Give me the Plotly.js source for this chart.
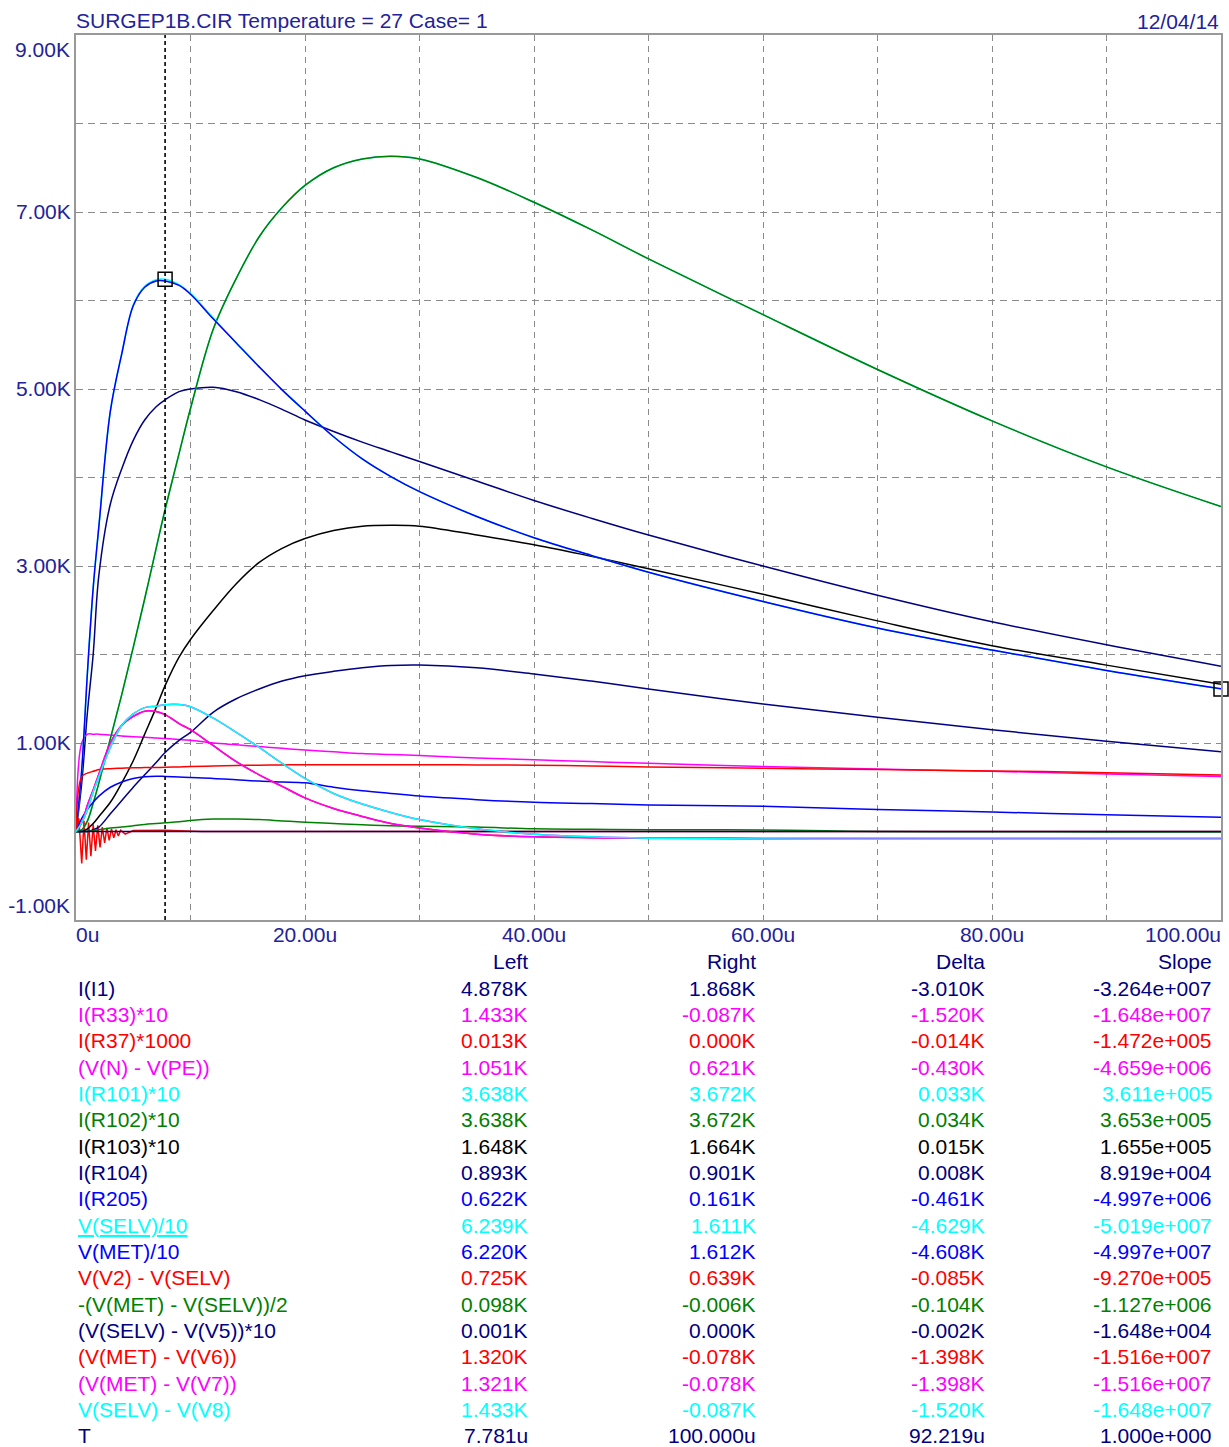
<!DOCTYPE html>
<html><head><meta charset="utf-8">
<script src="https://cdn.plot.ly/plotly-3.0.1.min.js"></script>
<style>html,body{margin:0;padding:0;background:#fff}#chart{width:1229px;height:1447px}</style>
</head><body><div id="chart"></div>
<script>
// ---------- DATA (time in microseconds, values in K) ----------
const timeUs = [0, 0.5, 1, 1.5, 2, 3, 4, 5, 6, 7, 7.781, 9, 10, 12, 14, 16, 18, 20, 22.5, 25, 27.5, 30, 35, 40, 45, 50, 60, 70, 80, 90, 100];

const iI1      = [0, 0.55, 1.35, 2.0, 2.9, 3.7, 4.1, 4.42, 4.65, 4.8, 4.878, 4.97, 5.0, 5.02, 4.97, 4.88, 4.77, 4.65, 4.52, 4.40, 4.29, 4.18, 3.96, 3.74, 3.54, 3.35, 3.0, 2.67, 2.37, 2.11, 1.868];
const iR33x10  = [0, 0.1, 0.25, 0.45, 0.62, 0.95, 1.2, 1.33, 1.4, 1.415, 1.433, 1.435, 1.41, 1.28, 1.12, 0.95, 0.77, 0.6, 0.43, 0.31, 0.215, 0.135, 0.03, -0.03, -0.06, -0.075, -0.085, -0.087, -0.087, -0.087, -0.087];
const vNminusPE = [0, 1.0, 1.1, 1.1, 1.1, 1.09, 1.08, 1.07, 1.065, 1.057, 1.051, 1.04, 1.03, 1.0, 0.98, 0.96, 0.94, 0.92, 0.9, 0.88, 0.87, 0.86, 0.83, 0.81, 0.79, 0.77, 0.735, 0.705, 0.68, 0.65, 0.621];
const iR101x10 = [0, 0.02, 0.12, 0.32, 0.55, 1.05, 1.55, 2.08, 2.63, 3.2, 3.638, 4.27, 4.78, 5.68, 6.25, 6.72, 7.05, 7.3, 7.5, 7.6, 7.63, 7.6, 7.39, 7.11, 6.8, 6.47, 5.84, 5.22, 4.64, 4.12, 3.672];
const iR102x10 = [0, 0.02, 0.12, 0.32, 0.55, 1.05, 1.55, 2.08, 2.63, 3.2, 3.638, 4.27, 4.78, 5.68, 6.25, 6.72, 7.05, 7.3, 7.5, 7.6, 7.63, 7.6, 7.39, 7.11, 6.8, 6.47, 5.84, 5.22, 4.64, 4.12, 3.672];
const iR103x10 = [0, 0, 0.03, 0.09, 0.17, 0.33, 0.55, 0.8, 1.1, 1.4, 1.648, 1.97, 2.17, 2.5, 2.8, 3.04, 3.2, 3.31, 3.4, 3.45, 3.46, 3.45, 3.35, 3.24, 3.11, 2.97, 2.68, 2.38, 2.1, 1.88, 1.664];
const iR104    = [0, 0, 0, 0.02, 0.05, 0.2, 0.35, 0.5, 0.64, 0.78, 0.893, 1.03, 1.12, 1.35, 1.5, 1.61, 1.7, 1.76, 1.81, 1.85, 1.875, 1.88, 1.85, 1.78, 1.7, 1.61, 1.44, 1.29, 1.15, 1.02, 0.901];
const iR205    = [0, 0.15, 0.25, 0.33, 0.4, 0.5, 0.56, 0.6, 0.62, 0.625, 0.622, 0.615, 0.61, 0.6, 0.585, 0.57, 0.56, 0.55, 0.5, 0.46, 0.43, 0.4, 0.36, 0.33, 0.315, 0.3, 0.285, 0.25, 0.22, 0.19, 0.161];
const vSELVdiv10 = [0, 0.7, 1.8, 2.75, 3.45, 4.75, 5.4, 5.95, 6.16, 6.235, 6.239, 6.18, 6.08, 5.8, 5.52, 5.25, 4.99, 4.75, 4.46, 4.21, 4.01, 3.84, 3.56, 3.32, 3.12, 2.93, 2.6, 2.3, 2.05, 1.82, 1.611];
const vMETdiv10  = [0, 0.7, 1.8, 2.75, 3.45, 4.75, 5.4, 5.94, 6.15, 6.22, 6.220, 6.17, 6.07, 5.79, 5.52, 5.25, 4.99, 4.75, 4.46, 4.21, 4.01, 3.84, 3.56, 3.32, 3.12, 2.93, 2.6, 2.3, 2.05, 1.82, 1.612];
const vV2minusSELV = [0, 0.62, 0.66, 0.68, 0.7, 0.71, 0.715, 0.72, 0.722, 0.724, 0.725, 0.73, 0.735, 0.74, 0.745, 0.75, 0.752, 0.755, 0.755, 0.755, 0.755, 0.755, 0.752, 0.75, 0.74, 0.73, 0.715, 0.7, 0.685, 0.665, 0.639];
const vMETSELVhalf = [0, 0, 0, 0.01, 0.02, 0.04, 0.05, 0.065, 0.08, 0.09, 0.098, 0.11, 0.125, 0.14, 0.14, 0.135, 0.12, 0.105, 0.09, 0.075, 0.065, 0.06, 0.05, 0.03, 0.025, 0.02, 0.018, 0.0, -0.003, -0.005, -0.006];
const vSELVV5x10 = [0, 0, 0, 0, 0, 0, 0, 0, 0, 0, 0.001, 0, 0, 0, 0, 0, 0, 0, 0, 0, 0, 0, 0, 0, 0, 0, 0, 0, 0, 0, 0];
const vMETminusV6 = [0, 0.1, 0.3, 0.47, 0.65, 1.0, 1.2, 1.3, 1.36, 1.355, 1.321, 1.22, 1.15, 0.97, 0.79, 0.64, 0.51, 0.38, 0.26, 0.17, 0.09, 0.04, -0.03, -0.06, -0.07, -0.075, -0.078, -0.078, -0.078, -0.078, -0.078];
const vMETminusV7 = [0, 0.1, 0.3, 0.47, 0.65, 1.0, 1.2, 1.3, 1.36, 1.355, 1.321, 1.22, 1.15, 0.97, 0.79, 0.64, 0.51, 0.38, 0.26, 0.17, 0.09, 0.04, -0.03, -0.06, -0.07, -0.075, -0.078, -0.078, -0.078, -0.078, -0.078];
const vSELVminusV8 = [0, 0.1, 0.25, 0.45, 0.62, 0.95, 1.2, 1.33, 1.4, 1.415, 1.433, 1.435, 1.41, 1.28, 1.12, 0.95, 0.77, 0.6, 0.43, 0.31, 0.215, 0.135, 0.03, -0.03, -0.06, -0.075, -0.085, -0.087, -0.087, -0.087, -0.087];

// I(R37)*1000 ringing at the start
const timeR37 = [0, 0.25, 0.5, 0.7, 0.9, 1.1, 1.3, 1.5, 1.7, 1.9, 2.1, 2.3, 2.5, 2.7, 2.9, 3.1, 3.3, 3.5, 3.7, 3.9, 4.3, 5, 7.781, 10, 11, 100];
const iR37x1000 = [0, 0.15, -0.36, 0.12, -0.32, 0.1, -0.28, 0.08, -0.22, 0.07, -0.18, 0.05, -0.13, 0.04, -0.1, 0.03, -0.07, 0.02, -0.05, 0.015, -0.03, 0.01, 0.013, 0.008, 0, 0];

// cursors
const cursorT = [7.781, 100];
const cursorV = [6.239, 1.611];

// table
const traceNames = ['I(I1)', 'I(R33)*10', 'I(R37)*1000', '(V(N) - V(PE))', 'I(R101)*10', 'I(R102)*10', 'I(R103)*10', 'I(R104)', 'I(R205)', 'V(SELV)/10', 'V(MET)/10', 'V(V2) - V(SELV)', '-(V(MET) - V(SELV))/2', '(V(SELV) - V(V5))*10', '(V(MET) - V(V6))', '(V(MET) - V(V7))', 'V(SELV) - V(V8)', 'T'];
const leftVals  = ['4.878K', '1.433K', '0.013K', '1.051K', '3.638K', '3.638K', '1.648K', '0.893K', '0.622K', '6.239K', '6.220K', '0.725K', '0.098K', '0.001K', '1.320K', '1.321K', '1.433K', '7.781u'];
const rightVals = ['1.868K', '-0.087K', '0.000K', '0.621K', '3.672K', '3.672K', '1.664K', '0.901K', '0.161K', '1.611K', '1.612K', '0.639K', '-0.006K', '0.000K', '-0.078K', '-0.078K', '-0.087K', '100.000u'];
const deltaVals = ['-3.010K', '-1.520K', '-0.014K', '-0.430K', '0.033K', '0.034K', '0.015K', '0.008K', '-0.461K', '-4.629K', '-4.608K', '-0.085K', '-0.104K', '-0.002K', '-1.398K', '-1.398K', '-1.520K', '92.219u'];
const slopeVals = ['-3.264e+007', '-1.648e+007', '-1.472e+005', '-4.659e+006', '3.611e+005', '3.653e+005', '1.655e+005', '8.919e+004', '-4.997e+006', '-5.019e+007', '-4.997e+007', '-9.270e+005', '-1.127e+006', '-1.648e+004', '-1.516e+007', '-1.516e+007', '-1.648e+007', '1.000e+000'];
const tableHeaders = ['Left', 'Right', 'Delta', 'Slope'];

// axis ticks
const xTickVals = [0, 10, 20, 30, 40, 50, 60, 70, 80, 90, 100];
const xTickText = ['', '', '20.00u', '', '40.00u', '', '60.00u', '', '80.00u', '', ''];
const yTickVals = [-1, 0, 1, 2, 3, 4, 5, 6, 7, 8, 9];
const yTickText = ['', '', '1.00K', '', '3.00K', '', '5.00K', '', '7.00K', '', ''];
const xEdgeText = ['0u', '100.00u'];
const yEdgeText = ['-1.00K', '9.00K'];

const titleText = 'SURGEP1B.CIR Temperature = 27 Case= 1';
const dateText = '12/04/14';

// ---------- STYLE ----------
const NAVY = '#000080', BLUE = '#0000ff', MAG = '#ff00ff', RED = '#ff0000', CYAN = '#00ffff', GREEN = '#008000', BLACK = '#000000';
const rowColors = [NAVY, MAG, RED, MAG, CYAN, GREEN, BLACK, NAVY, BLUE, CYAN, BLUE, RED, GREEN, NAVY, RED, MAG, CYAN, NAVY];
const FONT = '"Liberation Sans", Arial, sans-serif';
const TXT = '#22229a';
const FS = 21;

const W = 1229, H = 1447, ML = 76, MR = 8, MT = 35, MB = 527;
const plotW = W - ML - MR, plotH = H - MT - MB;
const px2x = px => (px - ML) / plotW;
const py2y = py => (H - MB - py) / plotH;

const seriesY = [iI1, iR33x10, null, vNminusPE, iR101x10, iR102x10, iR103x10, iR104, iR205, vSELVdiv10, vMETdiv10, vV2minusSELV, vMETSELVhalf, vSELVV5x10, vMETminusV6, vMETminusV7, vSELVminusV8];

const traces = [];
seriesY.forEach((ys, i) => {
  const isR37 = (i === 2);
  traces.push({
    type: 'scatter', mode: 'lines', name: traceNames[i],
    x: isR37 ? timeR37 : timeUs,
    y: isR37 ? iR37x1000 : ys,
    line: {color: rowColors[i], width: 1.5, shape: isR37 ? 'linear' : 'spline', smoothing: 1.0},
    hoverinfo: 'skip', showlegend: false
  });
});
// cursor dashed line (on overlay axes x2/y2, same ranges)
traces.push({
  type: 'scatter', mode: 'lines', xaxis: 'x2', yaxis: 'y2',
  x: [cursorT[0], cursorT[0]], y: [yTickVals[0], yTickVals[yTickVals.length - 1]],
  line: {color: BLACK, width: 1.6, dash: '4px,3px'}, hoverinfo: 'skip', showlegend: false
});
// cursor boxes (on overlay axes x3/y3, same ranges)
traces.push({
  type: 'scatter', mode: 'markers', xaxis: 'x3', yaxis: 'y3', x: cursorT, y: cursorV, cliponaxis: false,
  marker: {symbol: 'square-open', size: 14, color: BLACK, line: {width: 1.5, color: '#333'}},
  hoverinfo: 'skip', showlegend: false
});

const annotations = [];
annotations.push({xref: 'paper', yref: 'paper', x: 1, y: py2y(21), xanchor: 'right', yanchor: 'middle', text: dateText, showarrow: false, font: {family: FONT, size: FS, color: TXT}});
const colRight = [530, 758, 987, 1214];
tableHeaders.forEach((h, j) => {
  annotations.push({xref: 'paper', yref: 'paper', x: px2x(colRight[j]), y: py2y(962), xanchor: 'right', yanchor: 'middle', text: h, showarrow: false, font: {family: FONT, size: FS, color: NAVY}});
});
traceNames.forEach((n, i) => {
  const yy = py2y(988 + i * 26.35);
  const c = rowColors[i];
  annotations.push({xref: 'paper', yref: 'paper', x: 0, y: yy, xanchor: 'left', yanchor: 'middle', text: (n === 'V(SELV)/10' ? '<u>' + n + '</u>' : n), showarrow: false, font: {family: FONT, size: FS, color: c}});
  [leftVals, rightVals, deltaVals, slopeVals].forEach((arr, j) => {
    annotations.push({xref: 'paper', yref: 'paper', x: px2x(colRight[j]), y: yy, xanchor: 'right', yanchor: 'middle', text: arr[i], showarrow: false, font: {family: FONT, size: FS, color: c}});
  });
});

const tickFont = {family: FONT, size: FS, color: TXT};
const gridDashX = '6px,5px', gridDashY = '7px,5px';
const XSO = -5, YSO = -1, XSO_EDGE = 0, YSO_EDGE = 5;

const layout = {
  width: W, height: H,
  margin: {l: ML, r: MR, t: MT, b: MB, autoexpand: false},
  paper_bgcolor: '#ffffff', plot_bgcolor: '#ffffff',
  showlegend: false,
  title: {text: titleText, x: 0, xref: 'paper', xanchor: 'left', y: 1 - 21 / H, yref: 'container', yanchor: 'middle', font: {family: FONT, size: FS, color: TXT}},
  xaxis: {
    range: [0, 100], tickvals: xTickVals, ticktext: xTickText, ticks: '', ticklabelstandoff: XSO,
    showgrid: true, gridcolor: '#8a8a8a', gridwidth: 1, griddash: gridDashX,
    showline: true, mirror: true, linecolor: '#999999', linewidth: 2, zeroline: false,
    tickfont: tickFont, fixedrange: true
  },
  xaxis2: {
    overlaying: 'x', anchor: 'y2', side: 'bottom', range: [0, 100], tickvals: [xTickVals[0]], ticktext: [xEdgeText[0]],
    ticklabelposition: 'outside right', ticks: '', ticklabelstandoff: XSO_EDGE, showgrid: false, showline: false, zeroline: false, tickfont: tickFont, fixedrange: true
  },
  xaxis3: {
    overlaying: 'x', anchor: 'y3', side: 'bottom', range: [0, 100], tickvals: [xTickVals[xTickVals.length - 1]], ticktext: [xEdgeText[1]],
    ticklabelposition: 'outside left', ticks: '', ticklabelstandoff: XSO_EDGE, showgrid: false, showline: false, zeroline: false, tickfont: tickFont, fixedrange: true
  },
  yaxis: {
    range: [-1, 9], tickvals: yTickVals, ticktext: yTickText, ticks: '', ticklabelstandoff: YSO,
    showgrid: true, gridcolor: '#8a8a8a', gridwidth: 1, griddash: gridDashY,
    showline: true, mirror: true, linecolor: '#999999', linewidth: 2, zeroline: false,
    tickfont: tickFont, fixedrange: true
  },
  yaxis2: {
    overlaying: 'y', anchor: 'x2', side: 'left', range: [-1, 9], tickvals: [yTickVals[yTickVals.length - 1]], ticktext: [yEdgeText[1]],
    ticklabelposition: 'outside bottom', ticks: '', ticklabelstandoff: YSO_EDGE, showgrid: false, showline: false, zeroline: false, tickfont: tickFont, fixedrange: true
  },
  yaxis3: {
    overlaying: 'y', anchor: 'x3', side: 'left', range: [-1, 9], tickvals: [yTickVals[0]], ticktext: [yEdgeText[0]],
    ticklabelposition: 'outside top', ticks: '', ticklabelstandoff: YSO_EDGE, showgrid: false, showline: false, zeroline: false, tickfont: tickFont, fixedrange: true
  },
  annotations: annotations
};

Plotly.newPlot('chart', traces, layout, {staticPlot: true, displayModeBar: false});
</script>
</body></html>
